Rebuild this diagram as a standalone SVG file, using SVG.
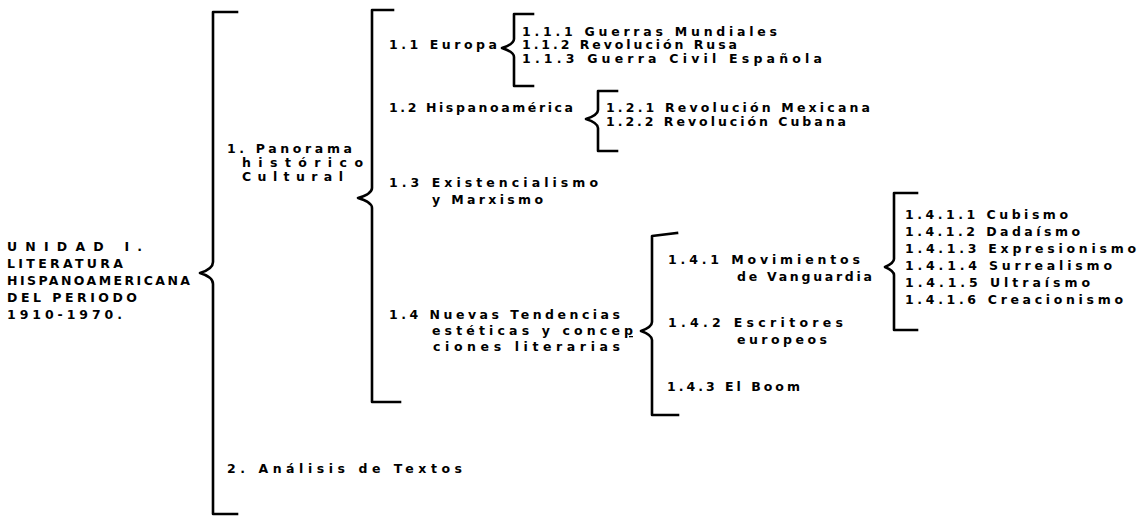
<svg xmlns="http://www.w3.org/2000/svg" width="1138" height="516" viewBox="0 0 1138 516">
<style>
.t{font-family:"DejaVu Sans","Liberation Sans",sans-serif;font-weight:bold;font-size:12.5px;fill:#000}
.b{fill:none;stroke:#000;stroke-width:2.6;stroke-linejoin:round;stroke-linecap:square}
</style>
<rect width="1138" height="516" fill="#fff"/>
<g id="connectors">
<path class="b" d="M237,12 L213,12 L213,262 Q213,269 200,273 Q213,277 213,284 L213,514 L237,514"/>
<path class="b" d="M393,10 L372,10 L372,188 Q372,194 358,198 Q372,202 372,208 L372,402 L400,402"/>
<path class="b" d="M533,14 L514,14 L514,39 Q514,44 502,48 Q514,52 514,57 L514,86 L533,86"/>
<path class="b" d="M617,91 L598,91 L598,110 Q598,115 586,119 Q598,123 598,128 L598,151 L617,151"/>
<path class="b" d="M677,233 L652,236 L652,322 Q652,327 641,331 Q652,335 652,340 L652,415 L678,415"/>
<path class="b" d="M917,193 L894,193 L894,259 Q894,263 885,267 Q894,271 894,275 L894,330 L917,330"/>
</g>
<g id="n-unidad">
<text class="t" x="7" y="251" textLength="135" lengthAdjust="spacing">UNIDAD I.</text>
<text class="t" x="7" y="268" textLength="116" lengthAdjust="spacing">LITERATURA</text>
<text class="t" x="7" y="285" textLength="183" lengthAdjust="spacing">HISPANOAMERICANA</text>
<text class="t" x="7" y="302" textLength="130" lengthAdjust="spacing">DEL PERIODO</text>
<text class="t" x="7" y="319" textLength="115" lengthAdjust="spacing">1910-1970.</text>
</g>
<g id="n-1">
<text class="t" x="227" y="153" textLength="125" lengthAdjust="spacing">1. Panorama</text>
<text class="t" x="242" y="167" textLength="121" lengthAdjust="spacing">histórico</text>
<text class="t" x="242" y="181" textLength="101" lengthAdjust="spacing">Cultural</text>
</g>
<g id="n-1-1">
<text class="t" x="389" y="49" textLength="108" lengthAdjust="spacing">1.1 Europa</text>
</g>
<g id="n-1-1-x">
<text class="t" x="522" y="36" textLength="255" lengthAdjust="spacing">1.1.1 Guerras Mundiales</text>
<text class="t" x="522" y="49" textLength="215" lengthAdjust="spacing">1.1.2 Revolución Rusa</text>
<text class="t" x="522" y="63" textLength="300" lengthAdjust="spacing">1.1.3 Guerra Civil Española</text>
</g>
<g id="n-1-2">
<text class="t" x="389" y="112" textLength="184" lengthAdjust="spacing">1.2 Hispanoamérica</text>
</g>
<g id="n-1-2-x">
<text class="t" x="606" y="112" textLength="264" lengthAdjust="spacing">1.2.1 Revolución Mexicana</text>
<text class="t" x="606" y="126" textLength="240" lengthAdjust="spacing">1.2.2 Revolución Cubana</text>
</g>
<g id="n-1-3">
<text class="t" x="389" y="187" textLength="209" lengthAdjust="spacing">1.3 Existencialismo</text>
<text class="t" x="432" y="204" textLength="111" lengthAdjust="spacing">y Marxismo</text>
</g>
<g id="n-1-4">
<text class="t" x="389" y="319" textLength="231" lengthAdjust="spacing">1.4 Nuevas Tendencias</text>
<text class="t" x="432" y="335" textLength="201" lengthAdjust="spacing">estéticas y conce<tspan text-decoration="underline">p</tspan></text>
<text class="t" x="433" y="351" textLength="187" lengthAdjust="spacing">ciones literarias</text>
</g>
<g id="n-1-4-1">
<text class="t" x="668" y="264" textLength="192" lengthAdjust="spacing">1.4.1 Movimientos</text>
<text class="t" x="737" y="281" textLength="135" lengthAdjust="spacing">de Vanguardia</text>
</g>
<g id="n-1-4-2">
<text class="t" x="668" y="327" textLength="175" lengthAdjust="spacing">1.4.2 Escritores</text>
<text class="t" x="737" y="344" textLength="90" lengthAdjust="spacing">europeos</text>
</g>
<g id="n-1-4-3">
<text class="t" x="667" y="391" textLength="133" lengthAdjust="spacing">1.4.3 El Boom</text>
</g>
<g id="n-1-4-1-x">
<text class="t" x="905" y="219" textLength="163" lengthAdjust="spacing">1.4.1.1 Cubismo</text>
<text class="t" x="905" y="236" textLength="175" lengthAdjust="spacing">1.4.1.2 Dadaísmo</text>
<text class="t" x="905" y="253" textLength="231" lengthAdjust="spacing">1.4.1.3 Expresionismo</text>
<text class="t" x="905" y="270" textLength="207" lengthAdjust="spacing">1.4.1.4 Surrealismo</text>
<text class="t" x="905" y="287" textLength="185" lengthAdjust="spacing">1.4.1.5 Ultraísmo</text>
<text class="t" x="905" y="304" textLength="218" lengthAdjust="spacing">1.4.1.6 Creacionismo</text>
</g>
<g id="n-2">
<text class="t" x="227" y="473" textLength="235" lengthAdjust="spacing">2. Análisis de Textos</text>
</g>
</svg>
